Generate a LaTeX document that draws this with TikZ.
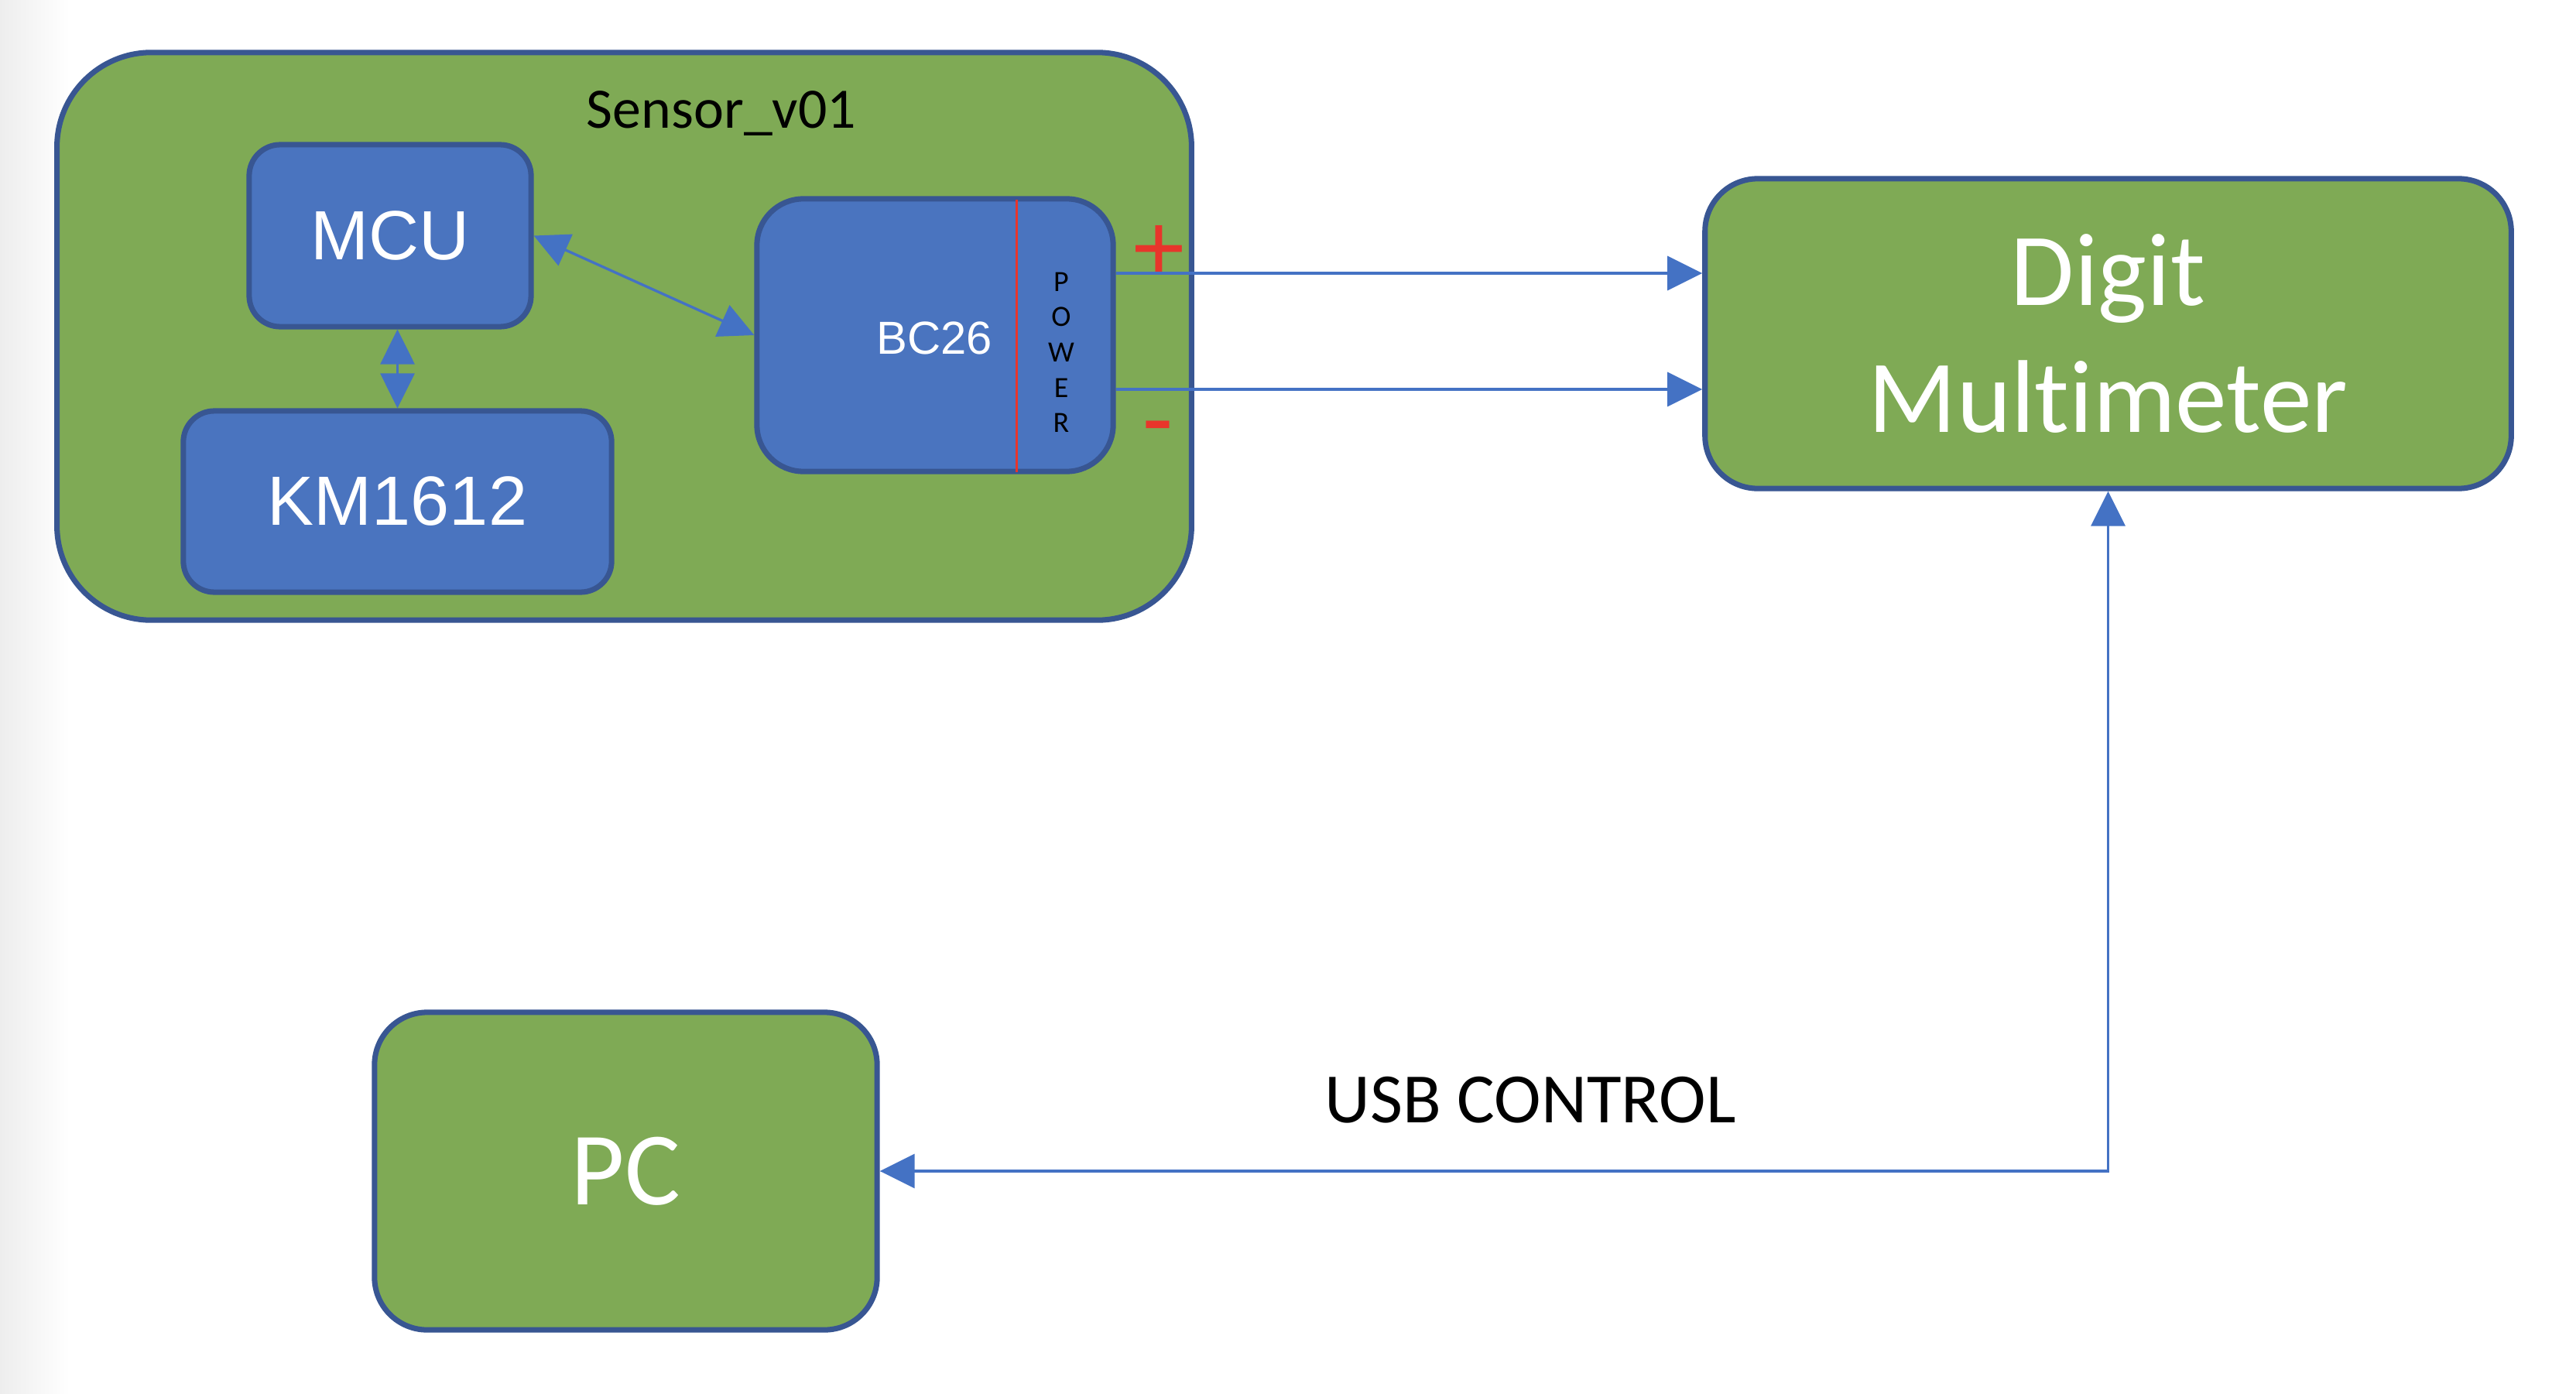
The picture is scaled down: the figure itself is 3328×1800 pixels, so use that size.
\documentclass[tikz,border=0pt]{standalone}
\usepackage{fontspec}
\setmainfont{Carlito}[Ligatures=NoCommon]
\newfontfamily\arialf{Liberation Sans}
\usetikzlibrary{arrows.meta,calc}
\definecolor{gfill}{RGB}{127,170,85}
\definecolor{bfill}{RGB}{74,116,191}
\definecolor{bord}{RGB}{56,86,146}
\definecolor{conncol}{RGB}{68,114,196}
\definecolor{redc}{RGB}{232,53,43}
\begin{document}
\begin{tikzpicture}[x=0.01cm,y=-0.01cm,
  box/.style={draw=bord, line width=2pt, inner sep=0pt},
  gbox/.style={box, fill=gfill, text=white},
  bbox/.style={box, fill=bfill, text=white},
  conn/.style={draw=conncol, line width=0.95pt},
  arr/.style={conn, -{Triangle[length=12.8pt,width=12.5pt]}},
  darr/.style={conn, {Triangle[length=12.8pt,width=12.5pt]}-{Triangle[length=12.8pt,width=12.5pt]}},
  armf/.style={font=\arialf\fontsize{25.6}{30}\selectfont},
]
\useasboundingbox (0,0) rectangle (3328,1800);
\fill[white] (0,0) rectangle (3328,1800);
\shade[left color=black!7,right color=white] (0,0) rectangle (90,1800);

% Sensor board
\node[gbox, minimum width=14.65cm, minimum height=7.33cm, rounded corners=1.22cm] (sensor) at (806.5,434.5) {};
\node[anchor=base, font=\fontsize{21}{25}\selectfont] (title) at (932,166) {Sensor\_v01};

\node[bbox, armf, minimum width=3.64cm, minimum height=2.35cm, rounded corners=0.40cm] (mcu) at (504,304.5) {MCU};
\node[bbox, armf, minimum width=5.53cm, minimum height=2.34cm, rounded corners=0.40cm] (km) at (513.5,648) {KM1612};
\node[bbox, minimum width=4.60cm, minimum height=3.52cm, rounded corners=0.60cm] (bc) at (1208,433) {};
\draw[redc, line width=0.85pt] ($(bc.north)+(105.6,5)$) -- ($(bc.south)+(105.6,-3)$);
\node[anchor=base, text=white, font=\arialf\fontsize{17}{20}\selectfont] (bclabel) at (1207,457) {BC26};
\node[anchor=north, align=center, inner sep=0pt, font=\fontsize{10.8}{13}\selectfont] (power) at (1371,351) {P\\O\\W\\E\\R};
\node[anchor=base, text=redc, inner sep=0pt, font=\arialf\fontsize{35}{40}\selectfont] (plus) at (1497,362) {+};
\node[anchor=base, text=redc, inner sep=0pt, font=\arialf\fontsize{35}{40}\selectfont] (minus) at (1496,581) {-};

% Multimeter and PC
\node[gbox, minimum width=10.41cm, minimum height=4.00cm, rounded corners=0.68cm, align=center, font=\fontsize{38}{46.4}\selectfont] (dm) at (2723.5,431) {Digit\\Multimeter};
\node[gbox, minimum width=6.49cm, minimum height=4.10cm, rounded corners=0.68cm, font=\fontsize{38.3}{46}\selectfont] (pc) at (808.5,1513) {PC};
\node[anchor=base, font=\fontsize{26}{31}\selectfont] (usb) at (1977,1450) {USB CONTROL};

% connectors
\draw[darr] (mcu.east) -- (bc.west);
\draw[darr] (km.north) -- (km.north |- mcu.south);
\coordinate (pp) at ($(bc.east)+(0,-80)$);
\coordinate (pm) at ($(bc.east)+(0,70)$);
\draw[arr] (pp) -- (pp -| dm.west);
\draw[arr] (pm) -- (pm -| dm.west);
\draw[darr] (dm.south) |- (pc.east);
\end{tikzpicture}
\end{document}
